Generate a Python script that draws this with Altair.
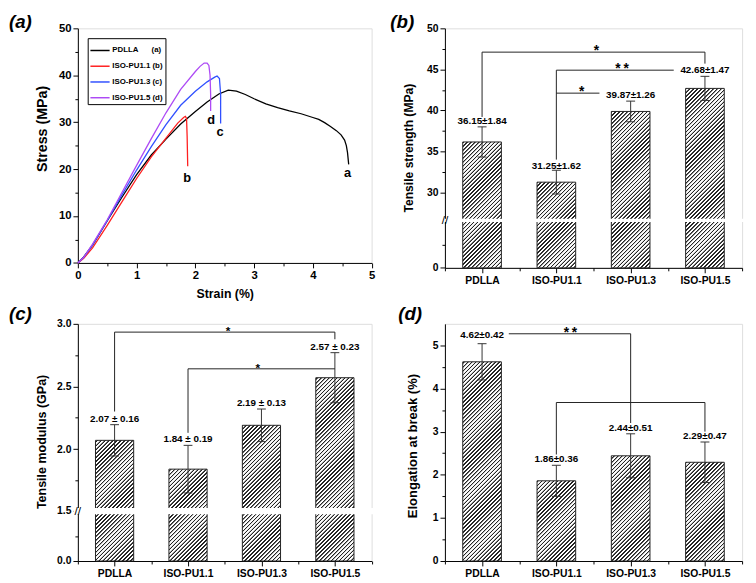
import altair as alt
import numpy as np
import pandas as pd

FONT = "Liberation Sans"

# ---------------- panel (a): stress-strain curves ----------------
series_names = ["PDLLA", "ISO-PU1.1", "ISO-PU1.3", "ISO-PU1.5"]
series_tags = ["(a)", "(b)", "(c)", "(d)"]
series_colors = ["#000000", "#ff1f1f", "#3050ff", "#ad4af5"]

pdlla_strain = [0, 0.1, 0.25, 0.5, 0.75, 1.0, 1.25, 1.5, 1.75, 2.0, 2.2, 2.4, 2.56, 2.7, 2.85,
                3.0, 3.2, 3.4, 3.6, 3.8, 4.0, 4.1, 4.2, 4.3, 4.4, 4.48, 4.54, 4.57, 4.59, 4.61]
pdlla_stress = [0, 1.3, 3.8, 9.0, 14.0, 18.8, 23.0, 26.4, 29.6, 32.3, 34.3, 36.0, 36.85, 36.6, 35.9,
                35.0, 33.9, 33.1, 32.4, 31.8, 31.0, 30.6, 29.9, 29.1, 28.2, 27.3, 26.2, 25.0, 23.5, 21.0]
pu11_strain = [0, 0.1, 0.25, 0.5, 0.75, 1.0, 1.25, 1.5, 1.7, 1.8, 1.83, 1.85, 1.86, 1.87]
pu11_stress = [0, 1.0, 3.2, 8.0, 13.0, 18.0, 22.6, 26.6, 29.8, 31.0, 31.25, 30.8, 27.0, 20.6]
pu13_strain = [0, 0.1, 0.25, 0.5, 0.75, 1.0, 1.25, 1.5, 1.75, 2.0, 2.2, 2.33, 2.37, 2.41, 2.43, 2.43]
pu13_stress = [0, 1.2, 3.8, 9.0, 14.5, 19.8, 24.8, 29.5, 33.6, 36.6, 38.6, 39.6, 39.85, 39.3, 36.0, 29.7]
pu15_strain = [0, 0.1, 0.25, 0.5, 0.75, 1.0, 1.25, 1.5, 1.75, 2.0, 2.08, 2.15, 2.2, 2.23, 2.25, 2.26, 2.26]
pu15_stress = [0, 1.2, 4.0, 9.2, 15.0, 20.8, 26.5, 32.0, 37.0, 40.8, 41.9, 42.6, 42.6, 42.1, 40.0, 36.0, 32.4]

curve_letters = ["a", "b", "c", "d"]
letter_strain = [4.59, 1.86, 2.42, 2.27]
letter_stress = [19.2, 18.0, 28.0, 30.4]

strain_ticks = [0, 0.5, 1, 1.5, 2, 2.5, 3, 3.5, 4, 4.5, 5]
stress_ticks = [0, 5, 10, 15, 20, 25, 30, 35, 40, 45, 50]

panel_letters = ["(a)", "(b)", "(c)", "(d)"]

# ---------------- bar panels ----------------
categories = ["PDLLA", "ISO-PU1.1", "ISO-PU1.3", "ISO-PU1.5"]
cat_ticks = [-0.5, 0, 0.5, 1, 1.5, 2, 2.5, 3, 3.5]

# (b) tensile strength
ts_mean = [36.15, 31.25, 39.87, 42.68]
ts_err = [1.84, 1.45, 1.26, 1.47]
ts_text = ["36.15±1.84", "31.25±1.62", "39.87±1.26", "42.68±1.47"]
ts_label_y = [38.64, 33.27, 41.91, 44.91]
ts_br_x1 = [0, 0, 3, 1, 1, 1]
ts_br_x2 = [0, 3, 3, 1, 2.58, 1.58]
ts_br_y1 = [39.2, 47.1, 45.7, 34.0, 44.9, 42.1]
ts_br_y2 = [47.1, 47.1, 47.1, 44.9, 44.9, 42.1]
ts_star_x = [1.54, 1.885, 1.34]
ts_star_y = [47.1, 44.9, 42.1]
ts_star_text = ["*", "*\u2009*", "*"]
ts_ticks = [0, 13, 30, 32.5, 35, 37.5, 40, 42.5, 45, 47.5, 50]

# (c) tensile modulus
tm_mean = [2.07, 1.84, 2.19, 2.57]
tm_err = [0.125, 0.19, 0.13, 0.2]
tm_text = ["2.07 ± 0.16", "1.84 ± 0.19", "2.19 ± 0.13", "2.57 ± 0.23"]
tm_label_y = [2.24, 2.078, 2.366, 2.816]
tm_br_x1 = [0, 0, 3, 1, 1]
tm_br_x2 = [0, 3, 3, 1, 3]
tm_br_y1 = [2.30, 2.934, 2.877, 2.13, 2.641]
tm_br_y2 = [2.934, 2.934, 2.934, 2.641, 2.641]
tm_star_x = [1.545, 1.95]
tm_star_y = [2.934, 2.641]
tm_star_text = ["*", "*"]
tm_ticks = [0, 0.75, 1.5, 1.75, 2.0, 2.25, 2.5, 2.75, 3.0]

# (d) elongation at break
eb_mean = [4.62, 1.86, 2.44, 2.29]
eb_err = [0.42, 0.36, 0.51, 0.47]
eb_text = ["4.62±0.42", "1.86±0.36", "2.44±0.51", "2.29±0.47"]
eb_label_y = [5.25, 2.36, 3.08, 2.89]
eb_br_x1 = [0.36, 2, 1, 1, 3]
eb_br_x2 = [2, 2, 3, 1, 3]
eb_br_y1 = [5.27, 3.20, 3.676, 2.47, 3.0]
eb_br_y2 = [5.27, 5.27, 3.676, 3.676, 3.676]
eb_star_x = [1.19]
eb_star_y = [5.27]
eb_star_text = ["*\u2009*"]
eb_ticks = [0, 0.5, 1, 1.5, 2, 2.5, 3, 3.5, 4, 4.5, 5]

# ---------------- layout / style ----------------
W1, W2 = 298.5, 302.0
H_A, H_B, H_CD = 238.4, 243.4, 241.0
HALF = 0.26   # half bar width (in category steps)
CAP = 0.06    # half cap width

# hatch profile (45 degree stripes, period in pixels along x+y)
HATCH_P = 4.0
KEY_PHI = [0.0, 1.3, 1.8, 2.9, 3.4, 4.0]
KEY_SHADE = [255, 255, 35, 35, 255, 255]


def make_axis(values, major, label_size, title=None, title_size=13, title_x=None, title_y=None,
              fmt=None, label_expr=None, major_len=5, minor_len=3, label_pad=2):
    kw = dict(values=values, grid=False, domainColor="black", domainWidth=1,
              tickColor="black", tickWidth=1,
              tickSize={"condition": {"test": f"!({major})", "value": minor_len}, "value": major_len},
              labelExpr=label_expr if label_expr else f"({major}) ? datum.label : ''",
              labelFont=FONT, labelFontWeight="bold", labelFontSize=label_size, labelColor="black",
              labelPadding=label_pad, labelOverlap=False, labelFlush=False)
    if fmt:
        kw["format"] = fmt
    if title:
        kw.update(title=title, titleFont=FONT, titleFontWeight="bold", titleFontSize=title_size,
                  titleColor="black", titleBaseline="middle", titleAlign="center")
        if title_x is not None:
            kw["titleX"] = title_x
        if title_y is not None:
            kw["titleY"] = title_y
    else:
        kw["title"] = None
    return alt.Axis(**kw)


def tag_layer(text, x, y):
    return alt.Chart(pd.DataFrame({"t": [text]})).mark_text(
        align="left", baseline="top", font=FONT, fontSize=19, fontWeight="bold",
        fontStyle="italic", color="black").encode(x=alt.value(x), y=alt.value(y), text="t:N")


def shade(g):
    return float(np.interp(g % HATCH_P, KEY_PHI, KEY_SHADE))


def gray(s):
    v = int(round(s))
    return "#{0:02x}{0:02x}{0:02x}".format(v)


def hatch(w, h, off):
    T = w + h
    k = T / (w * w + h * h)
    pts = [(0.0, shade(off)), (1.0, shade(off + T))]
    m0 = int(np.floor(off / HATCH_P)) - 1
    m1 = int(np.ceil((off + T) / HATCH_P)) + 1
    for m in range(m0, m1 + 1):
        for phi in KEY_PHI[1:-1]:
            g = m * HATCH_P + phi
            t = (g - off) / T
            if 0 < t < 1:
                pts.append((t, shade(g)))
    pts.sort()
    return alt.LinearGradient(gradient="linear",
                              stops=[alt.GradientStop(offset=round(t, 6), color=gray(s)) for t, s in pts],
                              x1=0, y1=0, x2=k * w, y2=k * h)


# ---------------- panel (a) ----------------
rows = []
for name, sx, sy in zip(series_names,
                        [pdlla_strain, pu11_strain, pu13_strain, pu15_strain],
                        [pdlla_stress, pu11_stress, pu13_stress, pu15_stress]):
    for k, (a, b) in enumerate(zip(sx, sy)):
        rows.append({"series": name, "strain": a, "stress": b, "seq": k})
curves = pd.DataFrame(rows)

xa = alt.X("strain:Q", scale=alt.Scale(domain=[0, 5], nice=False, zero=False),
           axis=make_axis(strain_ticks, "datum.value % 1 == 0", 11.5, "Strain (%)", 12.5, W1 / 2, 31.6,
                          fmt=".0f"))
ya = alt.Y("stress:Q", scale=alt.Scale(domain=[0, 50], nice=False, zero=False),
           axis=make_axis(stress_ticks, "datum.value % 10 == 0", 11.5, "Stress (MPa)", 14.5, -36.3, 101.7))

legend_labels = [n + ("\u00a0" * 6 if n == "PDLLA" else " ") + t for n, t in zip(series_names, series_tags)]
lab_expr = "datum.label"
for n, full in zip(reversed(series_names), reversed(legend_labels)):
    lab_expr = f"datum.label == '{n}' ? '{full}' : ({lab_expr})"

lines = alt.Chart(curves).mark_line(strokeWidth=1.3).encode(
    x=xa, y=ya,
    color=alt.Color("series:N", scale=alt.Scale(domain=series_names, range=series_colors),
                    legend=alt.Legend(title=None, orient="none", legendX=10, legendY=10,
                                      direction="vertical", symbolType="stroke", symbolSize=380,
                                      symbolStrokeWidth=1.5, labelFont=FONT, labelFontWeight="bold",
                                      labelFontSize=8, labelColor="black", labelLimit=200,
                                      labelOffset=2, strokeColor="black", fillColor="white",
                                      padding=2, rowPadding=1, labelExpr=lab_expr)),
    order="seq:Q")

letters = alt.Chart(pd.DataFrame({"strain": letter_strain, "stress": letter_stress, "t": curve_letters})).mark_text(
    font=FONT, fontSize=13, fontWeight="bold", color="black", baseline="middle").encode(x=xa, y=ya, text="t:N")

panel_a = alt.layer(lines, letters, tag_layer(panel_letters[0], -70, -15.3)).properties(width=W1, height=H_A)

# ---------------- bar panels ----------------
cat_expr = "''"
for i in reversed(range(len(categories))):
    cat_expr = f"datum.value == {i} ? '{categories[i]}' : ({cat_expr})"


def bar_panel(width, height, y_domain, y_range, y_ticks, y_major, y_fmt, y_title, y_title_size,
              y_title_x, y_title_y, means, errs, texts, label_ys, bx1, bx2, by1, by2,
              sx, sy, stext, star_size, tag, tag_x, tag_y, gap=None):
    step = width / 4
    xs = alt.Scale(domain=[-0.5, 3.5], nice=False, zero=False)
    ys_kw = dict(domain=y_domain, nice=False, zero=False)
    if y_range is not None:
        ys_kw["range"] = y_range
    ys = alt.Scale(**ys_kw)
    x_axis = make_axis(cat_ticks, "datum.value % 1 == 0", 10.5, label_expr=cat_expr, label_pad=3)
    y_axis = make_axis(y_ticks, y_major, 10.5, y_title, y_title_size, y_title_x, y_title_y, fmt=y_fmt)

    def X(f):
        return alt.X(f"{f}:Q", scale=xs, axis=x_axis)

    def Y(f):
        return alt.Y(f"{f}:Q", scale=ys, axis=y_axis)

    rng = list(y_range) if y_range is not None else [height, 0]

    def ypx(v):
        return float(np.interp(v, y_domain, rng))

    def yval(p):
        return float(np.interp(p, rng[::-1], list(y_domain)[::-1]))

    n = len(means)
    df = pd.DataFrame({"idx": list(range(n)), "mean": means, "err": errs, "text": texts, "ly": label_ys})
    df["xl"] = df["idx"] - HALF
    df["xr"] = df["idx"] + HALF
    df["cl"] = df["idx"] - CAP
    df["cr"] = df["idx"] + CAP
    df["lo"] = df["mean"] - df["err"]
    df["hi"] = df["mean"] + df["err"]
    df["zero"] = 0.0
    base = alt.Chart(df)
    layers = []
    w_px = 2 * HALF * step
    for i in range(n):
        top, bot = ypx(means[i]), ypx(0)
        left = (i - HALF + 0.5) * step
        n_p = max(1, int(np.ceil((bot - top) / 70.0)))
        edges = np.linspace(top, bot, n_p + 1)
        for kk in range(n_p):
            t_px = float(edges[kk])
            b_px = float(min(edges[kk + 1] + (1.0 if kk < n_p - 1 else 0.0), bot))
            piece = pd.DataFrame({"xl": [i - HALF], "xr": [i + HALF],
                                  "pt": [yval(t_px)], "pb": [yval(b_px)]})
            layers.append(alt.Chart(piece).mark_bar(
                fill=hatch(w_px, b_px - t_px, left + t_px), strokeWidth=0).encode(
                x=X("xl"), x2="xr", y=Y("pt"), y2="pb"))
    layers.append(base.mark_bar(fillOpacity=0, stroke="#222222", strokeWidth=1).encode(
        x=X("xl"), x2="xr", y=Y("mean"), y2="zero"))
    ecol = "#333333"
    layers.append(base.mark_rule(color=ecol, strokeWidth=1).encode(x=X("idx"), y=Y("lo"), y2="hi"))
    layers.append(base.mark_rule(color=ecol, strokeWidth=1).encode(x=X("cl"), x2="cr", y=Y("hi")))
    layers.append(base.mark_rule(color=ecol, strokeWidth=1).encode(x=X("cl"), x2="cr", y=Y("lo")))
    if gap is not None:
        gdf = pd.DataFrame({"gx1": [-0.56], "gx2": [3.56], "gy1": [gap[0]], "gy2": [gap[1]],
                            "gm": [(gap[0] + gap[1]) / 2], "gx": [-0.5], "t": ["//"]})
        layers.append(alt.Chart(gdf).mark_rect(fill="white", strokeWidth=0).encode(
            x=X("gx1"), x2="gx2", y=Y("gy1"), y2="gy2"))
        layers.append(alt.Chart(gdf).mark_text(font=FONT, fontSize=12, color="black",
                                               baseline="middle", align="center").encode(
            x=X("gx"), y=Y("gm"), text="t:N"))
    layers.append(base.mark_text(font=FONT, fontSize=10, fontWeight="bold", color="black",
                                 baseline="middle").encode(x=X("idx"), y=Y("ly"), text="text:N"))
    bdf = pd.DataFrame({"bx1": bx1, "bx2": bx2, "by1": by1, "by2": by2})
    layers.append(alt.Chart(bdf).mark_rule(color="#222222", strokeWidth=1).encode(
        x=X("bx1"), x2="bx2", y=Y("by1"), y2="by2"))
    sdf = pd.DataFrame({"sx": sx, "sy": sy, "t": stext})
    layers.append(alt.Chart(sdf).mark_text(font=FONT, fontSize=star_size, fontWeight="bold",
                                           color="black", baseline="alphabetic",
                                           dy=0.23 * star_size).encode(
        x=X("sx"), y=Y("sy"), text="t:N"))
    layers.append(tag_layer(tag, tag_x, tag_y))
    return alt.layer(*layers).properties(width=width, height=height)


panel_b = bar_panel(W2, H_B, [0, 26, 26.8, 50], [H_B, H_B - 46.7, H_B - 50.0, 0], ts_ticks,
                    "datum.value % 5 == 0", None, "Tensile strength (MPa)", 12.3, -37.0, 121.2,
                    ts_mean, ts_err, ts_text, ts_label_y, ts_br_x1, ts_br_x2, ts_br_y1, ts_br_y2,
                    ts_star_x, ts_star_y, ts_star_text, 14, panel_letters[1], -55.5, -15.3,
                    gap=(26, 26.8))

panel_c = bar_panel(W1, H_CD, [0, 1.45, 1.53, 3.0], [H_CD, 193.5, 187.1, 0], tm_ticks,
                    "datum.value % 0.5 == 0", ".1f", "Tensile modulus (GPa)", 12.7, -37.2, 119.5,
                    tm_mean, tm_err, tm_text, tm_label_y, tm_br_x1, tm_br_x2, tm_br_y1, tm_br_y2,
                    tm_star_x, tm_star_y, tm_star_text, 12, panel_letters[2], -70, -18.5,
                    gap=(1.45, 1.53))

panel_d = bar_panel(W2, H_CD, [0, 5.5], None, eb_ticks, "datum.value % 1 == 0", ".0f",
                    "Elongation at break (%)", 13.2, -33.3, 123.7,
                    eb_mean, eb_err, eb_text, eb_label_y, eb_br_x1, eb_br_x2, eb_br_y1, eb_br_y2,
                    eb_star_x, eb_star_y, eb_star_text, 14, panel_letters[3], -47.5, -19.0)

chart = alt.concat(panel_a, panel_b, panel_c, panel_d, columns=2,
                   spacing={"row": 56.3, "column": 74}, bounds="flush").properties(
    padding=0).configure_view(stroke="black", strokeWidth=1).configure(font=FONT)

chart.save("out.html", embed_options={"renderer": "svg", "actions": False})
